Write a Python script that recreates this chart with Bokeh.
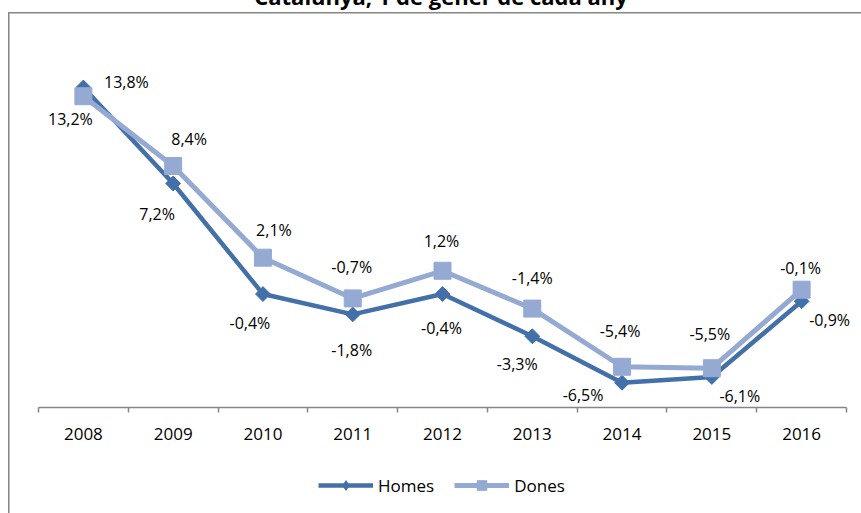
from bokeh.plotting import figure
from bokeh.layouts import column
from bokeh.models import (ColumnDataSource, FixedTicker, Legend, LegendItem, Title,
                          Range1d)
from bokeh.core.properties import value
from bokeh.embed import file_html
from bokeh.resources import INLINE
import numpy as np

# ---- data ----
years = ["2008", "2009", "2010", "2011", "2012", "2013", "2014", "2015", "2016"]
homes = [13.8, 7.2, -0.4, -1.8, -0.4, -3.3, -6.5, -6.1, -0.9]
dones = [13.2, 8.4, 2.1, -0.7, 1.2, -1.4, -5.4, -5.5, -0.1]
series_names = ["Homes", "Dones"]
title_text = "Catalunya, 1 de gener de cada any"

# label offsets (screen px)
homes_dx = [43, -16, -13, -1, -1, -15, -39, 28, 28]
homes_dy = [-6, 30, 29, 36, 34, 28, 12, 19, 19]
dones_dx = [-13, 16, 11, -1, -1, 0, -2, -2, -1]
dones_dy = [23, -27, -28, -31, -30, -31, -36, -34, -22]

def fmt(v):
    return f"{v:.1f}%".replace(".", ",")

xs = list(range(len(years)))
src = ColumnDataSource(dict(
    x=xs, homes=homes, dones=dones,
    hl=[fmt(v) for v in homes], dl=[fmt(v) for v in dones],
    hdx=homes_dx, hdy=homes_dy, ddx=dones_dx, ddy=dones_dy,
))

HOMES_C = "#4470AA"
DONES_C = "#95AAD3"
GRID_C = "#868686"
FONT = "Open Sans"
T = 70  # part of the canvas hidden above the window (the title is cut off there)

# category axis spans 38..846 px; the frame is a bit wider so edge labels are not clipped
AX_L, AX_R, FR_L, FR_R = 38, 846, 20, 861
ppu = (AX_R - AX_L) / len(years)
x_start = -0.5 - (AX_L - FR_L) / ppu
x_end = len(years) - 0.5 + (FR_R - AX_R) / ppu

# ---------------- main chart ----------------
p = figure(width=861, height=455 + T, output_backend="svg", toolbar_location=None,
           x_range=(x_start, x_end), y_range=(-8.2, 16),
           y_axis_location=None, min_border_left=FR_L, min_border_right=861 - FR_R,
           min_border_top=55 + T, min_border_bottom=48)
p.outline_line_color = None
p.xgrid.grid_line_color = None
p.ygrid.grid_line_color = None
p.background_fill_color = None
p.border_fill_color = None

p.title = Title(text=title_text, align="center", text_font=FONT,
                text_font_style="bold", text_font_size="22px",
                text_color="black", standoff=90)

ax = p.xaxis[0]
ax.bounds = (-0.5, len(years) - 0.5)
ax.ticker = FixedTicker(ticks=xs, minor_ticks=[i - 0.5 for i in range(len(years) + 1)])
ax.major_label_overrides = {i: y for i, y in zip(xs, years)}
ax.major_tick_out = 0
ax.major_tick_in = 0
ax.minor_tick_out = 5
ax.minor_tick_in = 0
ax.minor_tick_line_color = GRID_C
ax.minor_tick_line_width = 1.5
ax.axis_line_color = GRID_C
ax.axis_line_width = 1.5
ax.major_label_text_font = FONT
ax.major_label_text_font_size = "17px"
ax.major_label_text_color = "black"
ax.major_label_standoff = 15

p.line("x", "homes", source=src, line_color=HOMES_C, line_width=4.5)
p.scatter("x", "homes", source=src, marker="square", angle=np.pi / 4,
          size=10.5, fill_color=HOMES_C, line_color=HOMES_C)
p.line("x", "dones", source=src, line_color=DONES_C, line_width=5)
p.scatter("x", "dones", source=src, marker="square", size=17,
          fill_color=DONES_C, line_color=DONES_C)

p.text("x", "homes", text="hl", source=src, x_offset="hdx", y_offset="hdy",
       text_align="center", text_baseline="middle", text_font=value(FONT),
       text_font_size="16px", text_color="black")
p.text("x", "dones", text="dl", source=src, x_offset="ddx", y_offset="ddy",
       text_align="center", text_baseline="middle", text_font=value(FONT),
       text_font_size="16px", text_color="black")

# ---------------- legend strip ----------------
# legend proxies: same series & styles, drawn out of view (y range excludes data)
q = figure(width=861, height=58, output_backend="svg", toolbar_location=None,
           x_axis_location=None, y_axis_location=None,
           x_range=Range1d(-0.5, len(years) - 0.5), y_range=Range1d(100, 101),
           min_border_left=0, min_border_right=0, min_border_top=0,
           min_border_bottom=0)
q.outline_line_color = None
q.xgrid.grid_line_color = None
q.ygrid.grid_line_color = None
q.background_fill_color = None
q.border_fill_color = None

lh = q.line("x", "homes", source=src, line_color=HOMES_C, line_width=4.5)
mh = q.scatter("x", "homes", source=src, marker="diamond",
               size=15, fill_color=HOMES_C, line_color=HOMES_C)
ld = q.line("x", "dones", source=src, line_color=DONES_C, line_width=5)
md = q.scatter("x", "dones", source=src, marker="square", size=17,
               fill_color=DONES_C, line_color=DONES_C)

legend = Legend(items=[LegendItem(label=series_names[0], renderers=[lh, mh]),
                       LegendItem(label=series_names[1], renderers=[ld, md])],
                orientation="horizontal", location=(298, 16),
                glyph_width=55, glyph_height=24, label_standoff=5, spacing=20,
                padding=0, margin=0, border_line_color=None,
                background_fill_alpha=0,
                label_text_font=FONT, label_text_font_size="17px",
                label_text_color="black")
q.add_layout(legend)

layout = column(p, q, spacing=0, styles={
    "position": "relative", "top": f"-{T}px", "margin-bottom": f"-{T}px",
    "background-image": f"linear-gradient({GRID_C},{GRID_C}), linear-gradient({GRID_C},{GRID_C})",
    "background-size": "1.5px 900px, 900px 1.5px",
    "background-position": f"8px {12 + T}px, 8px {12 + T}px",
    "background-repeat": "no-repeat",
})

open("out.html", "w").write(file_html(layout, INLINE))
